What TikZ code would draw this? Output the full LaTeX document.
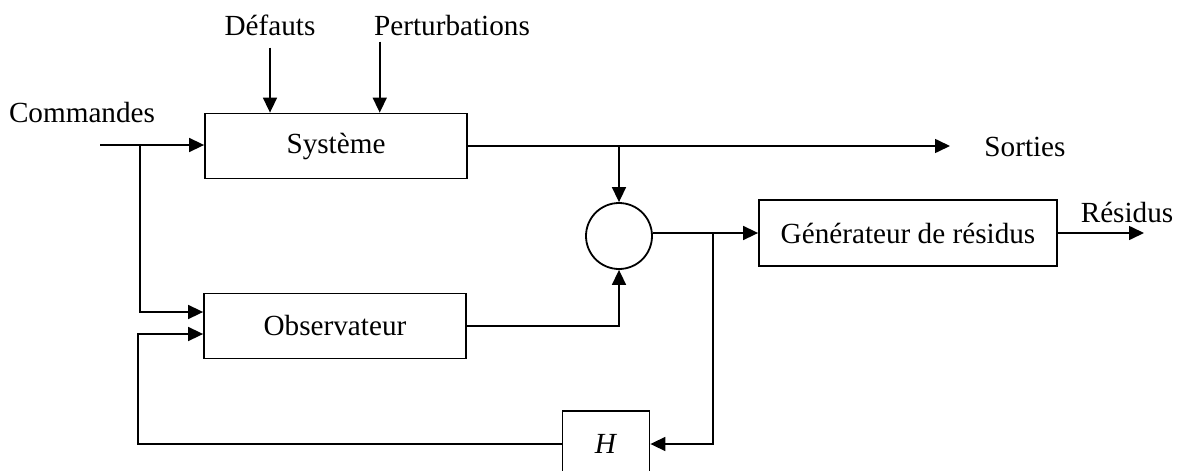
\documentclass[tikz,border=0pt]{standalone}
\usepackage{fontspec}
\setmainfont{Liberation Serif}
\usetikzlibrary{arrows.meta,positioning}
\tikzset
{
    block/.style = {rectangle, draw=black, line width=0.9pt, align=center, minimum width=131pt, minimum height=32.5pt, inner sep=0pt},
    sommateur/.style = {circle, draw=black, line width=0.9pt, minimum size=33pt, inner sep=0pt},
    txt/.style = {inner sep=0pt},
    wire/.style = {line width=0.8pt},
    arrow/.style = {line width=0.8pt, -{Triangle[length=7.5pt, width=7pt]}}
}

\begin{document}
\begin{tikzpicture}[x=0.5pt, y=-0.5pt, every node/.style={font=\fontsize{14.6}{17}\selectfont}]
	\useasboundingbox (0,0) rectangle (1178,471);

	\node (sys) [block] at (336,146) {Système};
	\node (obs) [block] at (335,326) {Observateur};
	\node (circ) [sommateur] at (619,236) {};
	\node (gen) [block, minimum width=149pt, minimum height=33pt] at (908,233) {Générateur de résidus};
	\node (H) [block, minimum width=43.5pt, minimum height=33pt] at (606,444) {\textit{H}};

	\node (def) [txt, anchor=base] at (270,35) {Défauts};
	\node (pert) [txt, anchor=base] at (452,35) {Perturbations};
	\node (cmd) [txt, anchor=base] at (82,122) {Commandes};
	\node (sor) [txt] at (1025,147) {Sorties};
	\node (res) [txt, anchor=base] at (1127,222) {Résidus};

	\coordinate (cin) at (100,145);
	\coordinate (b1) at (140,145);
	\coordinate (pin) at ([xshift=3pt, yshift=-3pt]pert.south west);
	\coordinate (sout) at (950,146);
	\coordinate (b2) at (713,233);
	\coordinate (rout) at (1144,233);
	\coordinate (fb) at (138,444);

	\draw [arrow, shorten <=6pt] (def) -- (def |- sys.north);
	\draw [arrow] (pin) -- (pin |- sys.north);
	\draw [arrow] (cin) -- (cin -| sys.west);
	\draw [arrow] (b1) |- ([yshift=7pt]obs.west);
	\draw [arrow] (sys.east) -- (sout);
	\draw [arrow] (sys.east -| circ.north) -- (circ.north);
	\draw [arrow] (obs.east) -| (circ.south);
	\draw [arrow] (circ.east |- gen.west) -- (gen.west);
	\draw [arrow] (gen.east) -- (rout);
	\draw [arrow] (b2) |- (H.east);
	\draw [arrow] (H.west) -- (fb) |- ([yshift=-4pt]obs.west);
	\end{tikzpicture}
\end{document}
